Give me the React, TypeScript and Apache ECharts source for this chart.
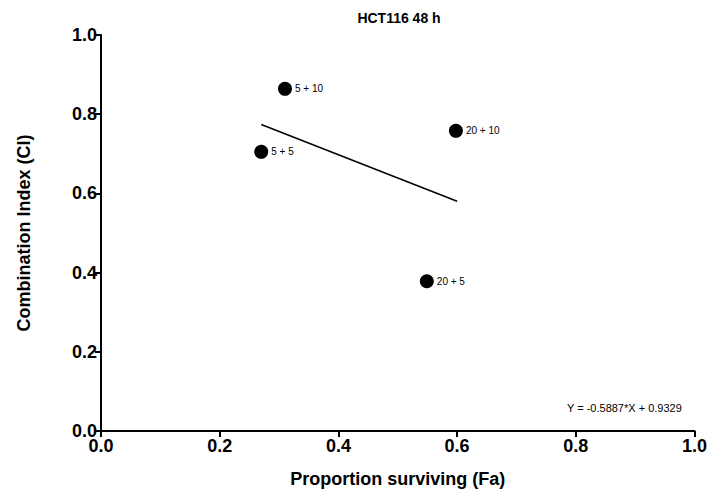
import React, { useEffect, useRef } from "react";
import * as echarts from "echarts";

const pointLabels = ["5 + 10", "5 + 5", "20 + 10", "20 + 5"];
const faValues = [0.31, 0.27, 0.598, 0.549];
const ciValues = [0.864, 0.705, 0.758, 0.378];
const fitX = [0.27, 0.6];
const fitY = [0.774, 0.58];
const equationText = "Y = -0.5887*X + 0.9329";

export default function App() {
  const ref = useRef<HTMLDivElement>(null);
  useEffect(() => {
    if (!ref.current) return;
    const chart = echarts.init(ref.current, undefined, { renderer: "svg" });
    const font = "Liberation Sans, Arial, sans-serif";
    chart.setOption({
      animation: false,
      backgroundColor: "#ffffff",
      title: {
        text: "HCT116 48 h",
        left: 394,
        top: 6,
        textAlign: "center",
        textStyle: { fontFamily: font, fontSize: 14, fontWeight: "bold", color: "#000" },
      },
      grid: { left: 101, right: 14, top: 35, bottom: 66, containLabel: false },
      xAxis: {
        type: "value",
        min: 0,
        max: 1,
        interval: 0.2,
        name: "Proportion surviving (Fa)",
        nameLocation: "middle",
        nameGap: 39,
        nameTextStyle: { fontFamily: font, fontSize: 18, fontWeight: "bold", color: "#000" },
        axisLine: { show: true, lineStyle: { color: "#000", width: 2 } },
        axisTick: { show: true, length: 6, lineStyle: { color: "#000", width: 2 } },
        axisLabel: {
          fontFamily: font,
          fontSize: 18,
          fontWeight: "bold",
          color: "#000",
          margin: 6,
          formatter: (v: number) => v.toFixed(1),
        },
        splitLine: { show: false },
      },
      yAxis: {
        type: "value",
        min: 0,
        max: 1,
        interval: 0.2,
        name: "Combination Index (CI)",
        nameLocation: "middle",
        nameGap: 68,
        nameTextStyle: { fontFamily: font, fontSize: 18, fontWeight: "bold", color: "#000" },
        axisLine: { show: true, lineStyle: { color: "#000", width: 2 } },
        axisTick: { show: true, length: 6, lineStyle: { color: "#000", width: 2 } },
        axisLabel: {
          fontFamily: font,
          fontSize: 18,
          fontWeight: "bold",
          color: "#000",
          margin: 4,
          formatter: (v: number) => v.toFixed(1),
        },
        splitLine: { show: false },
      },
      series: [
        {
          type: "line",
          data: fitX.map((x, i) => [x, fitY[i]]),
          showSymbol: false,
          symbol: "none",
          lineStyle: { color: "#000", width: 1.5 },
          z: 2,
        },
        {
          type: "scatter",
          data: faValues.map((x, i) => ({ value: [x, ciValues[i]], name: pointLabels[i] })),
          symbol: "circle",
          symbolSize: 14,
          itemStyle: { color: "#000", opacity: 1 },
          label: {
            show: true,
            position: "right",
            distance: 3,
            formatter: (p: any) => p.name,
            fontFamily: font,
            fontSize: 10,
            color: "#000",
          },
          z: 3,
        },
      ],
      graphic: [
        {
          type: "text",
          left: 567,
          top: 402,
          style: { text: equationText, fontFamily: font, fontSize: 11, fill: "#000" },
        },
      ],
    });
    return () => chart.dispose();
  }, []);
  return <div ref={ref} style={{ width: 710, height: 497, position: "absolute", left: 0, top: 0 }} />;
}
